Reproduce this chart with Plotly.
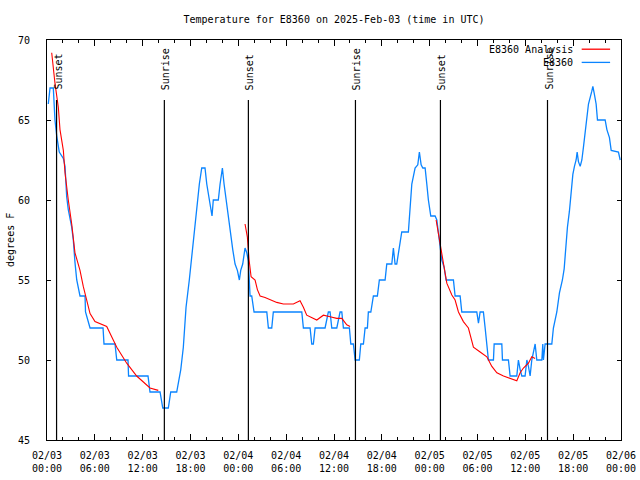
import plotly.graph_objects as go
import pandas as pd

BASE = pd.Timestamp("2025-02-03 00:00")

# Observed temperature (hours since 2025-02-03 00:00 UTC, degrees F)
obs_hours = [0.16, 0.38, 0.79, 0.88, 1.0, 1.22, 1.54, 2.05, 2.26, 2.47, 2.67, 3.10, 3.30, 3.51, 3.73,
             4.14, 4.77, 4.83, 5.40, 7.03, 7.15, 8.53, 8.75, 10.16, 10.23, 12.67, 12.92, 14.18, 14.39,
             14.52, 15.22, 15.52, 16.27, 16.47, 16.78, 17.10, 17.44, 17.85, 18.16, 18.48, 18.78, 19.11,
             19.41, 19.82, 20.04, 20.36, 20.70, 20.86, 21.49, 21.71, 22.0, 22.21, 22.55, 22.96, 23.30,
             23.59, 23.88, 24.13, 24.30, 24.55, 24.84, 25.06, 25.26, 25.47, 25.68, 25.97, 27.57, 27.77,
             28.19, 28.39, 31.96, 32.16, 33.0, 33.21, 33.41, 33.63, 34.88, 35.29, 35.51, 35.72, 36.35,
             36.76, 36.98, 37.18, 37.93, 38.11, 38.43, 38.65, 39.18, 39.36, 39.69, 39.90, 40.19, 40.31,
             40.62, 40.94, 41.44, 41.69, 42.41, 42.62, 43.25, 43.45, 43.66, 43.87, 44.20, 44.50, 45.33,
             45.55, 45.76, 46.17, 46.51, 46.71, 46.93, 47.14, 47.43, 47.64, 47.84, 48.14, 48.68, 48.90,
             49.10, 49.31, 49.52, 49.81, 50.06, 50.98, 51.19, 51.82, 52.03, 53.91, 54.12, 54.33, 54.74,
             54.96, 55.17, 55.37, 56.0, 56.09, 57.05, 57.13, 57.88, 58.09, 58.93, 59.13, 59.35, 59.56,
             59.97, 60.19, 60.39, 60.60, 60.81, 61.23, 61.44, 62.07, 62.19, 62.27, 62.48, 63.32, 63.52,
             63.95, 64.28, 64.65, 64.87, 65.12, 65.28, 65.53, 65.75, 65.96, 66.16, 66.37, 66.50, 66.66,
             66.88, 67.09, 67.29, 67.50, 67.72, 67.92, 68.34, 68.47, 68.63, 68.88, 69.05, 70.01, 70.23,
             70.55, 70.77, 71.68, 71.90]
obs_temp = [66.0, 67, 67, 66, 65, 64, 63, 62.6, 62.1, 60.2, 59.4, 58.3, 57.5, 56.1, 55.0,
            54.0, 54.0, 53, 52, 52, 51, 51, 50, 50, 49, 49, 48, 48, 47.3,
            47, 47, 48, 48, 48.5, 49.4, 50.8, 53.3, 55, 56.5, 57.7, 59.2, 61,
            62, 62, 61, 60, 59, 60, 60, 61, 62, 61, 59.6, 58.1, 56.9,
            56, 55.6, 55, 55.6, 56, 57, 56.7, 56.2, 54, 54, 53, 53, 52,
            52, 53, 53, 52, 52, 51, 51, 52, 52, 53, 53, 52, 52,
            53, 53, 52, 52, 51, 51, 50, 50, 51, 51, 52, 52, 53,
            53, 54, 54, 55, 55, 56, 56, 57, 56, 56, 57, 58, 58,
            59.4, 61, 62, 62.2, 63, 62.2, 62, 62, 61, 60, 59, 59, 58.75,
            58, 56.9, 56.25, 55.8, 55, 55, 54, 54, 53, 53, 52.3, 53, 53,
            52, 51, 50, 50, 51, 51, 50, 50, 49, 49, 50, 49.4, 49,
            49, 50, 49.6, 49, 50, 51, 50, 50, 51, 50, 51, 51, 52,
            53, 54.2, 55, 55.7, 57.3, 58.3, 59.3, 60.5, 61.6, 62.1, 62.5, 63, 62.4,
            62.1, 62.5, 63.3, 64.3, 65, 66, 66.8, 67.1, 66.7, 66, 65, 65, 64.4,
            63.9, 63.1, 63, 62.5]

# Analysis temperature, three night-time segments
ana1_hours = [0.59, 1.0, 1.42, 1.63, 2.05, 2.26, 2.67, 3.10, 3.51, 4.14, 4.55, 5.40, 6.02, 7.49,
              8.75, 10.0, 11.25, 12.92, 13.96]
ana1_temp = [69.2, 67.3, 65.8, 64.4, 63.1, 61.7, 60.0, 58.5, 56.7, 55.6, 54.6, 52.9, 52.4, 52.1,
             50.8, 49.8, 49.0, 48.25, 48.1]
ana2_hours = [24.84, 25.13, 25.35, 25.60, 26.10, 26.39, 26.73, 27.35, 28.82, 29.65, 30.90, 31.74,
              32.16, 32.58, 33.84, 34.67, 35.51, 36.35, 36.98, 37.60, 38.02]
ana2_temp = [58.5, 57.7, 56.25, 55.2, 55.0, 54.4, 54.0, 53.9, 53.6, 53.5, 53.5, 53.7,
             53.3, 52.8, 52.5, 52.8, 52.7, 52.6, 52.6, 52.2, 52.1]
ana3_hours = [48.81, 49.10, 49.31, 49.52, 49.81, 50.15, 50.78, 51.19, 51.61, 52.23, 52.86, 53.49,
              54.33, 55.17, 55.80, 56.43, 57.26, 58.09, 58.93, 59.35, 59.76, 60.39, 60.81, 61.23]
ana3_temp = [58.75, 57.9, 57.3, 56.5, 55.75, 54.8, 54.06, 53.75, 53.0, 52.4, 52.0, 50.8,
             50.5, 50.2, 49.6, 49.2, 49.0, 48.85, 48.7, 49.2, 49.5, 49.8, 50.2, 50.1]

# Sun events (hours since 2025-02-03 00:00 UTC)
sun_hours = [1.2, 14.72, 25.26, 38.69, 49.35, 62.78]
sun_labels = ["Sunset", "Sunrise", "Sunset", "Sunrise", "Sunset", "Sunrise"]

TITLE = "Temperature for E8360 on 2025-Feb-03 (time in UTC)"
YTITLE = "degrees F"
FONT = "DejaVu Sans Mono"
BLUE = "#0a84ff"
RED = "#ff0000"


def to_time(hours):
    return [BASE + pd.Timedelta(hours=h) for h in hours]


ana_x = to_time(ana1_hours) + [None] + to_time(ana2_hours) + [None] + to_time(ana3_hours)
ana_y = ana1_temp + [None] + ana2_temp + [None] + ana3_temp

fig = go.Figure()
fig.add_trace(go.Scatter(x=to_time(obs_hours), y=obs_temp, mode="lines", name="E8360",
                         line=dict(color=BLUE, width=1.3), showlegend=False))
fig.add_trace(go.Scatter(x=ana_x, y=ana_y, mode="lines", name="E8360 Analysis",
                         line=dict(color=RED, width=1.1), connectgaps=False, showlegend=False))

sun_times = to_time(sun_hours)
for t, lab in zip(sun_times, sun_labels):
    fig.add_shape(type="line", xref="x", yref="paper", x0=t, x1=t, y0=0, y1=0.85,
                  line=dict(color="black", width=1.2))
    fig.add_annotation(x=t, y=0.87, xref="x", yref="paper", text=lab, textangle=-90,
                       showarrow=False, xanchor="center", yanchor="bottom", xshift=1,
                       font=dict(family=FONT, size=10, color="black"))

# gnuplot-style legend (text, then line sample)
legend_items = [("E8360 Analysis", RED, 0.977), ("E8360", BLUE, 0.944)]
for txt, col, yy in legend_items:
    fig.add_annotation(x=0.92, y=yy, xref="paper", yref="paper", text=txt, showarrow=False,
                       xanchor="right", yanchor="middle",
                       font=dict(family=FONT, size=10, color="black"))
    fig.add_shape(type="line", xref="paper", yref="paper", x0=0.9315, x1=0.981, y0=yy, y1=yy,
                  line=dict(color=col, width=1.3))

# y-axis title (gnuplot places it at the far left)
fig.add_annotation(x=-0.0645, y=0.5, xref="paper", yref="paper", text=YTITLE, textangle=-90,
                   showarrow=False, xanchor="center", yanchor="middle",
                   font=dict(family=FONT, size=10, color="black"))

fig.update_layout(
    width=640, height=480,
    margin=dict(l=47, r=19, t=40, b=40, autoexpand=False),
    paper_bgcolor="white", plot_bgcolor="white",
    title=dict(text=TITLE, x=0.5, xanchor="center", xref="paper",
               y=1 - 19 / 480, yanchor="middle", yref="container",
               font=dict(family=FONT, size=10, color="black")),
    font=dict(family=FONT, size=10, color="black"),
)
fig.update_xaxes(
    range=[BASE, BASE + pd.Timedelta(days=3)], automargin=False,
    type="date", tick0=BASE, dtick=6 * 3600 * 1000, tickformat="%m/%d<br>%H:%M",
    ticks="inside", ticklen=6, tickcolor="black", tickwidth=1,
    minor=dict(dtick=2 * 3600 * 1000, ticks="inside", ticklen=3, tickcolor="black", tickwidth=1),
    showline=True, linecolor="black", linewidth=1, mirror="ticks",
    showgrid=False, zeroline=False, ticklabelstandoff=6,
    tickfont=dict(family=FONT, size=10, color="black"),
)
fig.update_yaxes(
    range=[45, 70], tick0=45, dtick=5, automargin=False,
    ticks="inside", ticklen=4, tickcolor="black", tickwidth=1,
    showline=True, linecolor="black", linewidth=1, mirror="ticks",
    showgrid=False, zeroline=False, ticklabelstandoff=14,
    tickfont=dict(family=FONT, size=10, color="black"),
)

fig.write_html("out.html", config={"displayModeBar": False},
               post_script="document.body.style.margin='0';")
